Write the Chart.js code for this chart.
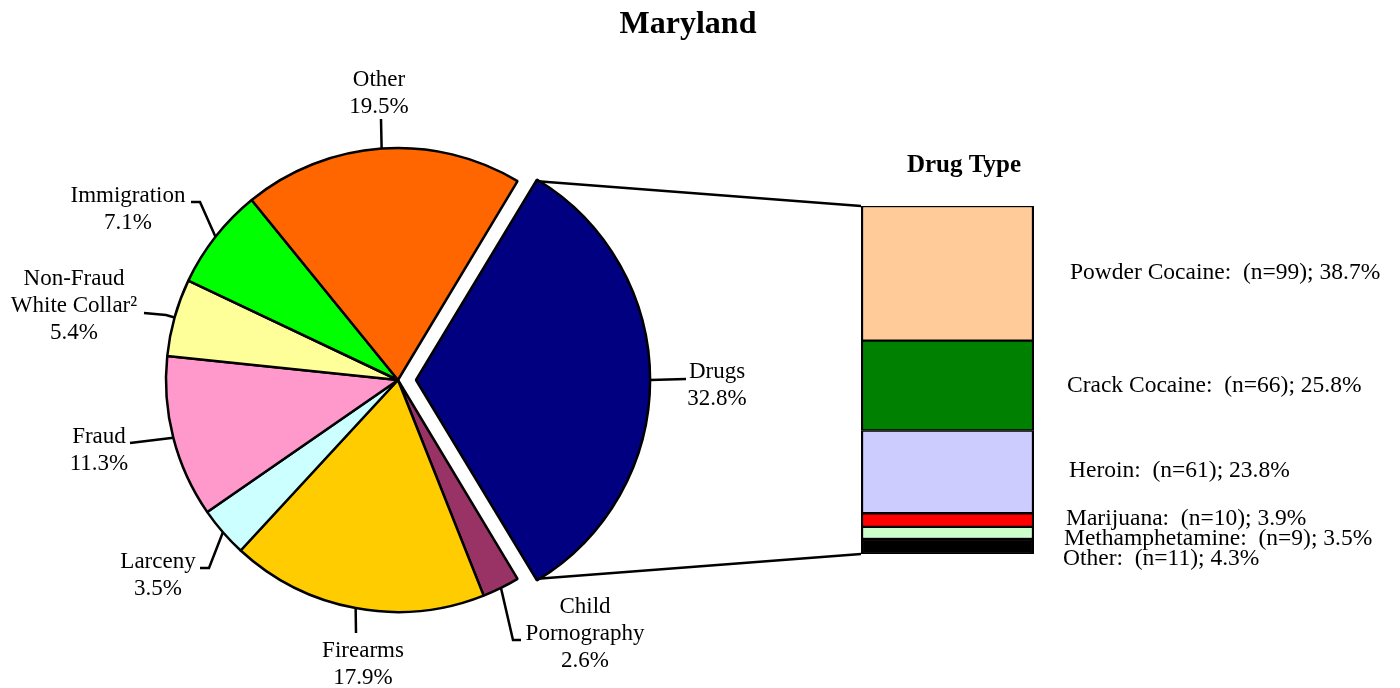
<!DOCTYPE html>
<html>
<head>
<meta charset="utf-8">
<script src="https://cdn.jsdelivr.net/npm/chart.js@4.4.0/dist/chart.umd.js"></script>
<style>
    html, body { margin: 0; padding: 0; background: #fff; }
    #wrap { position: relative; width: 1400px; height: 688px; }
    #wrap canvas { position: absolute; left: 0; top: 0; }
</style>
</head>
<body>
<div id="wrap">
    <canvas id="pie" width="1400" height="688"></canvas>
    <canvas id="bar" width="1400" height="688"></canvas>
</div>
<script>
// offense mix (pie)
const offenseTypes  = ['Drugs', 'Child Pornography', 'Firearms', 'Larceny', 'Fraud', 'Non-Fraud White Collar', 'Immigration', 'Other'];
const offenseShares = [32.8, 2.6, 17.9, 3.5, 11.3, 5.4, 7.1, 19.5];
const offenseColors = ['#000080', '#993366', '#ffcc00', '#ccffff', '#ff99cc', '#ffff99', '#00ff00', '#ff6600'];

// drug breakdown (stacked bar)
const drugTypes  = ['Powder Cocaine', 'Crack Cocaine', 'Heroin', 'Marijuana', 'Methamphetamine', 'Other'];
const drugCounts = [99, 66, 61, 10, 9, 11];
const drugShares = [38.7, 25.8, 23.8, 3.9, 3.5, 4.3];
const drugColors = ['#ffcc99', '#008000', '#ccccff', '#ff0000', '#ccffcc', '#000000'];

// label placement only (text lines, anchor of text, leader elbows)
const pieLabelLayout = [
    { lines: ['Drugs'],                     x: 717, y: 378, leader: [[686, 379]] },
    { lines: ['Child', 'Pornography'],      x: 585, y: 613, leader: [[513, 640], [521, 640]] },
    { lines: ['Firearms'],                  x: 363, y: 657, leader: [[356, 633]] },
    { lines: ['Larceny'],                   x: 158, y: 568, leader: [[209, 568], [200, 568]] },
    { lines: ['Fraud'],                     x: 99,  y: 443, leader: [[130, 443]] },
    { lines: ['Non-Fraud', 'White Collar²'], x: 74, y: 285, leader: [[166, 315], [144, 313]] },
    { lines: ['Immigration'],               x: 128, y: 202, leader: [[200, 202], [191, 202]] },
    { lines: ['Other'],                     x: 379, y: 86,  leader: [[381, 119]] },
];
const drugLabelLayout = [[1070, 279], [1067, 392], [1069, 477], [1066, 525], [1064, 545], [1063, 565]];

const SERIF = '"Liberation Serif", "Times New Roman", serif';
const LINE_H = 27;
const total = offenseShares.reduce((a, b) => a + b, 0);

// where an exploded arc really sits (Chart.js v4 arc offset rule)
function arcShift(arc) {
    const off = (arc.options.offset || 0) / 4;
    const circ = arc.endAngle - arc.startAngle;
    const fix = 1 - Math.sin(Math.min(Math.PI, circ));
    return off * (1 + fix);
}

const pieLabels = {
    id: 'pieLabels',
    afterDraw(chart) {
        const { ctx } = chart;
        const arcs = chart.getDatasetMeta(0).data;
        ctx.save();
        ctx.strokeStyle = '#000';
        ctx.lineWidth = 2.5;
        ctx.fillStyle = '#000';
        ctx.font = `23px ${SERIF}`;
        ctx.textAlign = 'center';
        ctx.textBaseline = 'alphabetic';
        arcs.forEach((arc, i) => {
            const mid = (arc.startAngle + arc.endAngle) / 2;
            const s = arcShift(arc);
            const ax = arc.x + Math.cos(mid) * (arc.outerRadius + s);
            const ay = arc.y + Math.sin(mid) * (arc.outerRadius + s);
            const lay = pieLabelLayout[i];
            ctx.beginPath();
            ctx.moveTo(ax, ay);
            lay.leader.forEach(([px, py]) => ctx.lineTo(px, py));
            ctx.stroke();
            const lines = [...lay.lines, `${offenseShares[i].toFixed(1)}%`];
            lines.forEach((t, k) => ctx.fillText(t, lay.x, lay.y + k * LINE_H));
        });
        ctx.font = `bold 32px ${SERIF}`;
        ctx.fillText('Maryland', 688, 33);
        ctx.restore();
    },
};

new Chart(document.getElementById('pie'), {
    type: 'pie',
    data: {
        labels: offenseTypes,
        datasets: [{
            data: offenseShares,
            backgroundColor: offenseColors,
            borderColor: '#000',
            borderWidth: 2.5,
            offset: offenseShares.map((v, i) => (i === 0 ? 72 : 0)),
        }],
    },
    options: {
        responsive: false, animation: false, events: [],
        rotation: 90 - (offenseShares[0] / total) * 180,
        radius: 232,
        layout: { padding: { left: 0, right: 604, top: 72, bottom: 0 } },
        plugins: { legend: { display: false }, tooltip: { enabled: false } },
    },
    plugins: [pieLabels],
});

const barLabels = {
    id: 'barLabels',
    afterDraw(chart) {
        const { ctx } = chart;
        const pie = Chart.getChart('pie');
        const drugArc = pie.getDatasetMeta(0).data[0];
        const mid = (drugArc.startAngle + drugArc.endAngle) / 2;
        const s = arcShift(drugArc);
        const cx = drugArc.x + Math.cos(mid) * s;
        const cy = drugArc.y + Math.sin(mid) * s;
        const r = drugArc.outerRadius;

        let top = Infinity, bottom = -Infinity, left = 0;
        chart.data.datasets.forEach((d, i) => {
            const bar = chart.getDatasetMeta(i).data[0];
            top = Math.min(top, bar.y, bar.base);
            bottom = Math.max(bottom, bar.y, bar.base);
            left = bar.x - bar.width / 2;
        });

        ctx.save();
        ctx.strokeStyle = '#000';
        ctx.lineWidth = 2.5;
        ctx.beginPath();
        ctx.moveTo(cx + Math.cos(drugArc.startAngle) * r, cy + Math.sin(drugArc.startAngle) * r);
        ctx.lineTo(left, top);
        ctx.moveTo(cx + Math.cos(drugArc.endAngle) * r, cy + Math.sin(drugArc.endAngle) * r);
        ctx.lineTo(left, bottom);
        ctx.stroke();

        ctx.fillStyle = '#000';
        ctx.textAlign = 'left';
        ctx.font = `23.5px ${SERIF}`;
        drugTypes.forEach((t, i) => {
            const [x, y] = drugLabelLayout[i];
            ctx.fillText(`${t}:  (n=${drugCounts[i]}); ${drugShares[i].toFixed(1)}%`, x, y);
        });
        ctx.textAlign = 'center';
        ctx.font = `bold 25px ${SERIF}`;
        ctx.fillText('Drug Type', 964, 172);
        ctx.restore();
    },
};

new Chart(document.getElementById('bar'), {
    type: 'bar',
    data: {
        labels: ['Drugs'],
        datasets: drugTypes.map((t, i) => ({
            label: t,
            data: [drugShares[i]],
            backgroundColor: drugColors[i],
            borderColor: '#000',
            borderWidth: { top: 1.5, bottom: 1.5, left: 2.5, right: 2.5 },
            borderSkipped: false,
            barPercentage: 1,
            categoryPercentage: 1,
        })),
    },
    options: {
        responsive: false, animation: false, events: [],
        layout: { padding: { left: 861, right: 366, top: 206, bottom: 134 } },
        scales: {
            x: { display: false, stacked: true },
            y: { display: false, stacked: true, reverse: true, min: 0, max: 100 },
        },
        plugins: { legend: { display: false }, tooltip: { enabled: false } },
    },
    plugins: [barLabels],
});
</script>
</body>
</html>
